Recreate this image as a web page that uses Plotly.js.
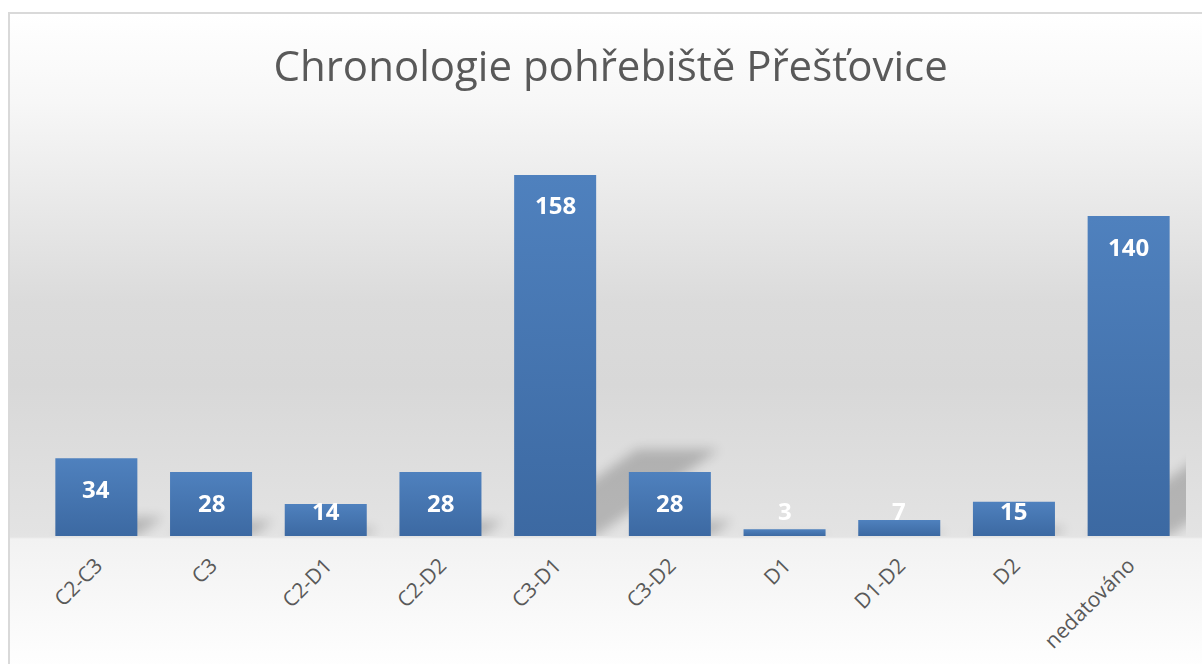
<!DOCTYPE html>
<html>
<head>
<meta charset="utf-8">
<script src="https://cdn.plot.ly/plotly-3.0.1.min.js"></script>
<style>
  html, body { margin:0; padding:0; width:1202px; height:664px; overflow:hidden; background:#ffffff; }
  #bg { position:absolute; left:8px; top:12px; width:1210px; height:670px; box-sizing:border-box;
        border:2px solid #d9d9d9;
        background: linear-gradient(to bottom,
          #ffffff 0px, #f7f7f7 88px, #e9e9e9 188px, #dbdbdb 288px, #d8d8d8 370px,
          #e3e3e3 520px, #e4e4e4 523px, #f2f2f2 525px, #f7f7f7 580px, #fdfdfd 640px, #ffffff 670px); }
  #chart { position:absolute; left:0; top:0; width:1202px; height:664px; }
</style>
</head>
<body>
<div id="bg"></div>
<div id="chart"></div>
<script>
const categories = ['C2-C3','C3','C2-D1','C2-D2','C3-D1','C3-D2','D1','D1-D2','D2','nedatováno'];
const counts = [34, 28, 14, 28, 158, 28, 3, 7, 15, 140];
const chartTitle = 'Chronologie pohřebiště Přešťovice';

const FONT = 'Open Sans, Noto Sans, sans-serif';

const trace = {
  type: 'bar',
  x: categories,
  y: counts,
  marker: { color: '#4674b0', line: { width: 0 } },
  hoverinfo: 'x+y'
};

const annotations = categories.map((c, i) => ({
  x: c,
  y: Math.max(counts[i], 24.5),
  yshift: -30,
  yanchor: 'middle',
  text: '<b>' + counts[i] + '</b>',
  showarrow: false,
  font: { family: FONT, size: 24, color: '#ffffff' }
}));

const layout = {
  width: 1202,
  height: 664,
  margin: { l: 39, r: 16, t: 100, b: 128 },
  paper_bgcolor: 'rgba(0,0,0,0)',
  plot_bgcolor: 'rgba(0,0,0,0)',
  showlegend: false,
  bargap: 0.285,
  title: {
    text: chartTitle,
    font: { family: FONT, size: 42, color: '#595959' },
    xref: 'container', yref: 'container',
    x: 0.508, xanchor: 'center',
    y: 1 - 66/664, yanchor: 'middle'
  },
  xaxis: {
    type: 'category',
    tickangle: -45,
    tickfont: { family: FONT, size: 21, color: '#595959' },
    ticklabelstandoff: 12,
    showgrid: false, showline: false, zeroline: false, ticks: ''
  },
  yaxis: {
    visible: false,
    range: [0, 190.8],
    showgrid: false, zeroline: false
  },
  annotations: annotations
};

Plotly.newPlot('chart', [trace], layout, { displayModeBar: false, staticPlot: true }).then(function (gd) {
  const NS = 'http://www.w3.org/2000/svg';
  const svg = gd.querySelector('svg.main-svg');
  let defs = svg.querySelector('defs');
  if (!defs) { defs = document.createElementNS(NS, 'defs'); svg.insertBefore(defs, svg.firstChild); }
  const grad = document.createElementNS(NS, 'linearGradient');
  grad.setAttribute('id', 'barGrad');
  grad.setAttribute('x1', '0'); grad.setAttribute('y1', '0');
  grad.setAttribute('x2', '0'); grad.setAttribute('y2', '1');
  [['0', '#4f81be'], ['1', '#3c69a2']].forEach(function (s) {
    const st = document.createElementNS(NS, 'stop');
    st.setAttribute('offset', s[0]); st.setAttribute('stop-color', s[1]);
    grad.appendChild(st);
  });
  defs.appendChild(grad);
  const filt = document.createElementNS(NS, 'filter');
  filt.setAttribute('id', 'shadowBlur');
  filt.setAttribute('x', '-20%'); filt.setAttribute('y', '-20%');
  filt.setAttribute('width', '140%'); filt.setAttribute('height', '140%');
  const blur = document.createElementNS(NS, 'feGaussianBlur');
  blur.setAttribute('stdDeviation', '6');
  filt.appendChild(blur);
  defs.appendChild(filt);

  const plotH = gd._fullLayout._size.h;
  const k = 0.34, s = 0.24;
  const paths = Array.from(gd.querySelectorAll('.barlayer .point path'));
  const traceG = gd.querySelector('.barlayer .trace');
  const shadowG = document.createElementNS(NS, 'g');
  shadowG.setAttribute('filter', 'url(#shadowBlur)');
  shadowG.setAttribute('opacity', '0.2');
  paths.forEach(function (p) {
    const c = p.cloneNode();
    c.style.fill = '#000000';
    c.style.stroke = 'none';
    c.setAttribute('transform', 'matrix(1,0,' + (-k) + ',' + s + ',' + (k*plotH) + ',' + ((1-s)*plotH) + ')');
    shadowG.appendChild(c);
    p.style.fill = 'url(#barGrad)';
  });
  const pointsG = traceG.querySelector('.points') || traceG;
  pointsG.insertBefore(shadowG, pointsG.firstChild);
});
</script>
</body>
</html>
